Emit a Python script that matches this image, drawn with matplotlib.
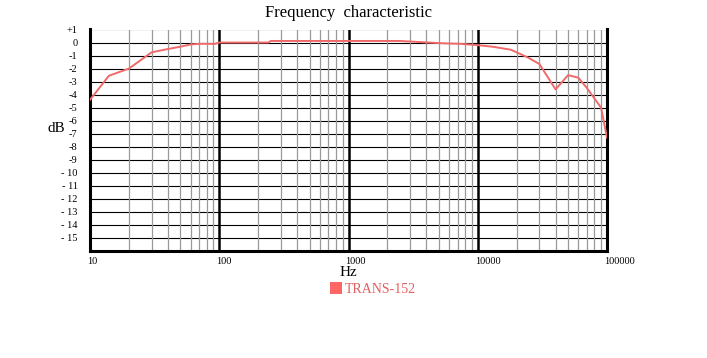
import matplotlib.pyplot as plt
import matplotlib.transforms as mtransforms
from matplotlib.patches import Patch

# frequency response
freqs = [10, 14, 20, 30, 40, 50, 60, 70, 93, 100, 240, 250, 2500, 3500, 5400,
         7300, 10000, 13000, 18000, 20500, 25000, 30000, 40000, 50000, 60000,
         70000, 80000, 90000, 100000]
db = [-4.4, -2.55, -2.0, -0.75, -0.5, -0.32, -0.15, -0.1, -0.1, 0.0, 0.0, 0.12,
      0.12, 0.04, -0.06, -0.1, -0.2, -0.32, -0.55, -0.8, -1.2, -1.65, -3.6,
      -2.5, -2.7, -3.5, -4.3, -5.0, -7.3]

y_ticks = list(range(1, -16, -1))
y_labels = ['+1', '0'] + ['-%d' % i for i in range(1, 10)] + ['- %d' % i for i in range(10, 16)]
x_major = [10, 100, 1000, 10000, 100000]
x_labels = ['10', '100', '1000', '10000', '100000']
series_name = 'TRANS-152'

line_color = '#f06a6a'
serif = ['Liberation Serif', 'DejaVu Serif']

fig = plt.figure(figsize=(7.07, 3.58), dpi=100)
ax = fig.add_axes([90 / 707, 1 - 251 / 358, 517 / 707, 221.5 / 358])
ax.set_xscale('log')
ax.set_xlim(10, 100000)
ax.set_ylim(-16, 1)

# grid: black horizontals, grey minor verticals, heavy decade lines
for y in range(-15, 2):
    ax.axhline(y, color='black', lw=0.8, zorder=1)
for dec in [10, 100, 1000, 10000]:
    for m in range(2, 10):
        ax.axvline(dec * m, color='#999999', lw=0.9, zorder=1)
for f in [100, 1000, 10000]:
    ax.axvline(f, color='black', lw=1.8, zorder=2)

ax.plot(freqs, db, color=line_color, lw=1.4, zorder=3)

for s in ['left', 'bottom', 'right']:
    ax.spines[s].set_linewidth(2.2)
ax.spines['top'].set_visible(False)

ax.set_yticks(y_ticks)
ax.set_yticklabels(y_labels, family=serif, fontsize=7.5)
ax.set_xticks(x_major)
ax.set_xticks([], minor=True)
ax.set_xticklabels(x_labels, family=serif, fontsize=7.5)
ax.tick_params(length=0, pad=4)
ax.tick_params(axis='y', pad=9)
shift = mtransforms.ScaledTranslation(-3 / 100, 0, fig.dpi_scale_trans)
for lab in ax.get_xticklabels():
    lab.set_ha('left')
    lab.set_transform(lab.get_transform() + shift)

ax.set_title('Frequency  characteristic', family=serif, fontsize=12, pad=9)
ax.set_xlabel('Hz', family=serif, fontsize=11, labelpad=0)
ax.set_ylabel('dB', family=serif, fontsize=11, rotation=0, ha='center', va='center')
ax.yaxis.set_label_coords(-0.066, 0.555)

handle = Patch(facecolor='#ff6666', edgecolor='none', label=series_name)
fig.legend(handles=[handle], loc='center', bbox_to_anchor=(373 / 707, 1 - 289 / 358),
           frameon=False, prop={'family': serif, 'size': 10}, labelcolor='#e06060',
           handlelength=0.9, handleheight=0.9, handletextpad=0.2)

fig.savefig('out.png', dpi=100)
